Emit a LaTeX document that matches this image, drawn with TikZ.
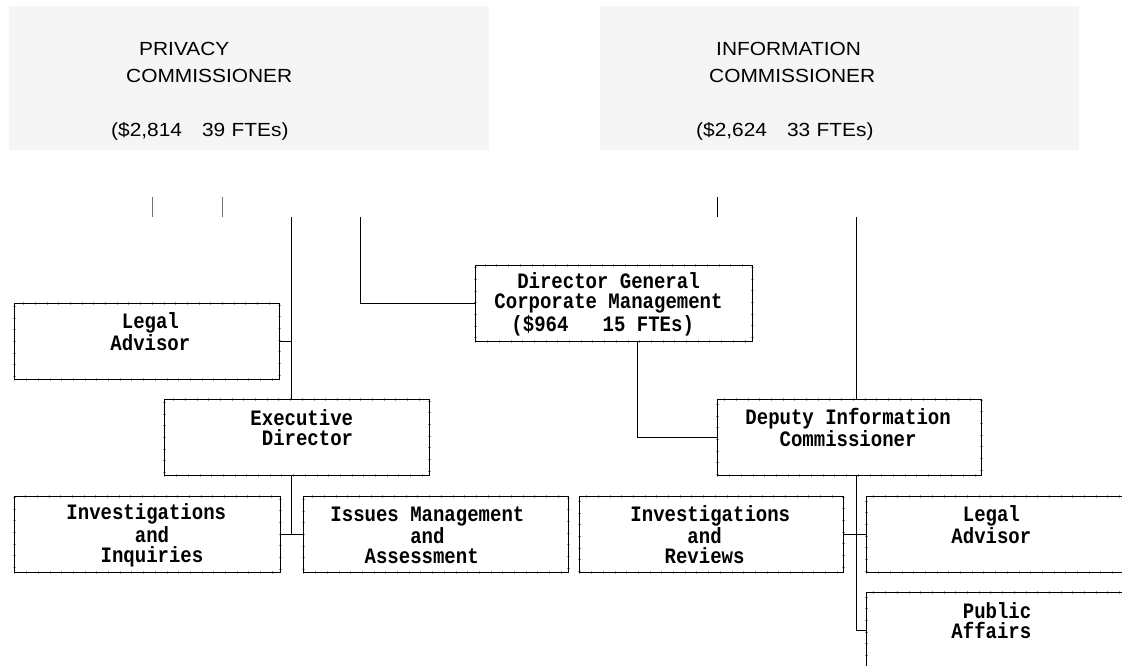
\documentclass[tikz,border=0pt]{standalone}
\usepackage{fontspec}
\setmainfont{Liberation Sans}
\newfontfamily\boxfont[FakeStretch=0.864]{Liberation Mono}
\newfontfamily\headfont[FakeStretch=1.1]{Liberation Sans}
\definecolor{headgray}{RGB}{245,245,245}
\newcommand\bxs{\rule[-2pt]{0pt}{20pt}}
\newcommand\hds{\rule[-7pt]{0pt}{27pt}}
\tikzset{
  orgbox/.style={draw=black, line width=0.9pt, rectangle, inner sep=0pt,
    minimum height=76pt, align=left, anchor=north west,
    font=\boxfont\bfseries\fontsize{22pt}{20pt}\selectfont,
    preaction={draw=black!40, line width=3pt, dash pattern=on 0.6pt off 11.1pt}},
  lsk/.style={execute at begin node={\leftskip=#1pt\relax\baselineskip=20pt\lineskip=0pt\spaceskip=11.4pt\relax}},
  headbox/.style={fill=headgray, draw=none, rectangle, inner sep=0pt,
    minimum width=480pt, minimum height=144pt, anchor=north west},
  headtext/.style={inner sep=0pt, align=left, anchor=north west, text width=300pt,
    font=\headfont\fontsize{19pt}{27pt}\selectfont,
    execute at begin node={\baselineskip=27pt\lineskip=0pt\relax}},
  wire/.style={draw=black, line width=0.9pt},
  stub/.style={draw=black, line width=1.8pt},
  tick/.style={draw=black!55, line width=1pt},
}
\begin{document}
\begin{tikzpicture}[x=1pt, y=-1pt]
\useasboundingbox (0,0) rectangle (1122,665);

% top commissioner boxes
\node[headbox] (privbox) at (9,6) {};
\node[headtext] (privtext) at (111,35)
  {\hds\hspace*{28pt}PRIVACY\\\hds\hspace*{15pt}COMMISSIONER\\\hds\\\hds(\$2,814\hspace{20pt}39 FTEs)};
\node[headbox, minimum width=479pt] (infobox) at (600,6) {};
\node[headtext] (infotext) at (696,35)
  {\hds\hspace*{20pt}INFORMATION\\\hds\hspace*{13pt}COMMISSIONER\\\hds\\\hds(\$2,624\hspace{20pt}33 FTEs)};

% organisation boxes
\node[orgbox, lsk=96, text width=265pt] (legalL) at (14,303)
  {\bxs~Legal\\\bxs Advisor\\\bxs};
\node[orgbox, lsk=86, text width=265pt] (execd) at (164,399)
  {\bxs Executive\\\bxs~Director\\\bxs};
\node[orgbox, lsk=19, text width=277pt] (dg) at (475,265)
  {\bxs~~Director~General\\\bxs Corporate~Management\\\bxs\hspace*{17pt}(\$964~~~15~FTEs)};
\node[orgbox, lsk=28, text width=264pt] (deputy) at (717,399)
  {\bxs Deputy~Information\\\bxs~~~Commissioner\\\bxs};
\node[orgbox, lsk=52, text width=266pt] (invL) at (14,496)
  {\bxs Investigations\\\bxs~~~~~~and\\\bxs~~~Inquiries};
\node[orgbox, lsk=27, text width=265pt] (issues) at (303,496)
  {\bxs Issues~Management\\\bxs~~~~~~~and\\\bxs~~~Assessment};
\node[orgbox, lsk=51, text width=264pt] (invR) at (579,496)
  {\bxs Investigations\\\bxs~~~~~and\\\bxs~~~Reviews};
\node[orgbox, lsk=85, text width=270pt] (legalR) at (866,496)
  {\bxs~Legal\\\bxs Advisor\\\bxs};
\node[orgbox, lsk=85, text width=270pt] (public) at (866,592)
  {\bxs~Public\\\bxs Affairs\\\bxs};

% free line ends
\coordinate (ta1) at (152.5,197); \coordinate (tb1) at (152.5,217);
\coordinate (ta2) at (222,197);   \coordinate (tb2) at (222,217);
\coordinate (ta3) at (717,197);   \coordinate (tb3) at (717,217);
\coordinate (pv1) at (291,217);
\coordinate (pv2) at (360,217);
\coordinate (iv1) at (856,217);

% short ticks under the commissioner boxes
\draw[tick] (ta1) -- (tb1);
\draw[tick] (ta2) -- (tb2);
\draw[wire] (ta3) -- (tb3);

% privacy side
\draw[wire] (pv1) -- (pv1 |- execd.north);
\draw[stub] (legalL.east) -- (legalL.east -| pv1);
\draw[wire] (pv2) |- (dg.west);
\draw[wire] (execd.south -| pv1) -- (pv1 |- invL.east);
\draw[stub] (invL.east) -- (issues.west);

% corporate management to deputy
\draw[wire] ([xshift=23.5pt]dg.south) |- (deputy.west);

% information side
\draw[wire] (iv1) -- (iv1 |- deputy.north);
\draw[wire] (deputy.south -| iv1) -- (iv1 |- public.west);
\draw[stub] (iv1 |- public.west) -- (public.west);
\draw[stub] (invR.east) -- (legalR.west);
\end{tikzpicture}
\end{document}
